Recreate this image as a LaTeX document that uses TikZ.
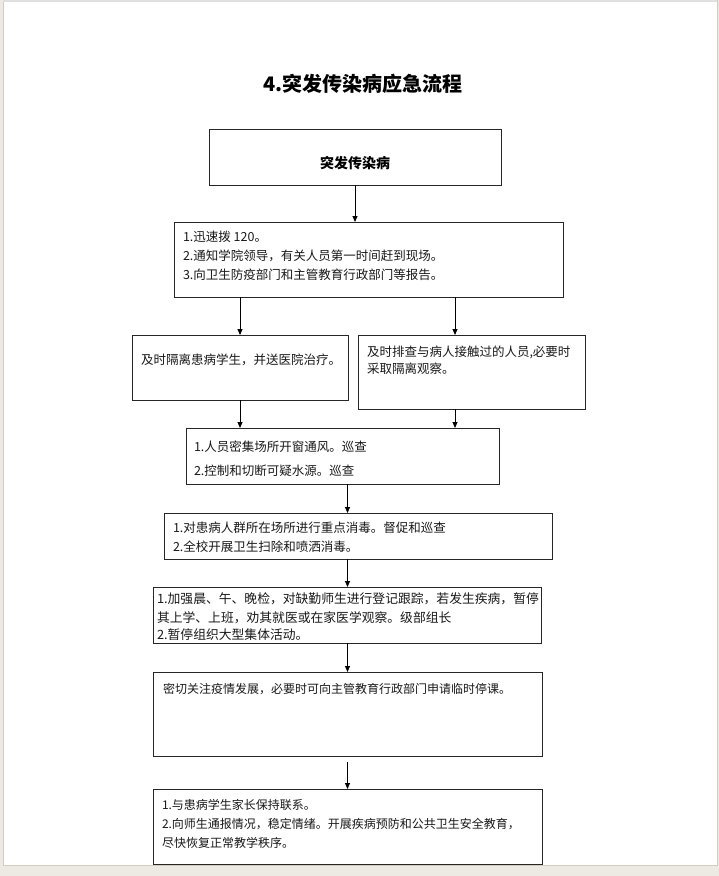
\documentclass[tikz,border=0pt]{standalone}
\usepackage{fontspec}
\setmainfont{Noto Sans CJK SC}
\usetikzlibrary{arrows.meta,calc}
\definecolor{pagebg}{HTML}{EDEAE3}
\definecolor{edgegray}{HTML}{CFCCC4}
\tikzset{
  box/.style={draw=black!85, line width=0.8pt, inner sep=0pt, outer sep=0pt, rectangle},
  txt/.style={anchor=base west, inner sep=0pt, outer sep=0pt, text=black!90, font=\fontsize{12.5}{15}\selectfont},
  arr/.style={draw=black, line width=0.8pt, -{Triangle[length=6pt,width=5pt]}},
}
\begin{document}
\begin{tikzpicture}[x=1pt,y=-1pt]
\useasboundingbox (0,0) rectangle (719,876);
\fill[pagebg] (0,0) rectangle (719,876);
\fill[white] (3,0) rectangle (717,865);
\draw[edgegray, line width=0.6pt] (3,0) -- (3,865) -- (717,865) -- (717,0);
\fill[black!12] (3,0) rectangle (717,1.5);

% title
\node[anchor=base, inner sep=0pt, font=\fontsize{20}{24}\selectfont\bfseries] (title) at (363,91) {4.突发传染病应急流程};

% boxes
\node[box, minimum width=292pt, minimum height=56pt] (b1) at (355,157) {};
\node[box, minimum width=389pt, minimum height=75pt] (b2) at (368.5,259.5) {};
\node[box, minimum width=216pt, minimum height=65pt] (b3l) at (240,367.5) {};
\node[box, minimum width=227pt, minimum height=74pt] (b3r) at (471.5,372) {};
\node[box, minimum width=313pt, minimum height=56pt] (b4) at (342.5,456) {};
\node[box, minimum width=388pt, minimum height=46pt] (b5) at (358,536) {};
\node[box, minimum width=388pt, minimum height=56pt] (b6) at (347,615) {};
\node[box, minimum width=389pt, minimum height=84pt] (b7) at (347.5,714) {};
\node[box, minimum width=389pt, minimum height=75pt] (b8) at (347.5,826.5) {};

% texts
\node[anchor=base, inner sep=0pt, font=\fontsize{14}{17}\selectfont\bfseries] (t1) at (355,168) {突发传染病};

\node[txt] (t2a) at (183,241) {1.迅速拨 120。};
\node[txt] (t2b) at (183,260) {2.通知学院领导，有关人员第一时间赶到现场。};
\node[txt] (t2c) at (183,279) {3.向卫生防疫部门和主管教育行政部门等报告。};

\node[txt] (t3l) at (141,364) {及时隔离患病学生，并送医院治疗。};

\node[txt] (t3ra) at (367,356) {及时排查与病人接触过的人员,必要时};
\node[txt] (t3rb) at (367,373.5) {采取隔离观察。};

\node[txt] (t4a) at (194,451) {1.人员密集场所开窗通风。巡查};
\node[txt] (t4b) at (194,475) {2.控制和切断可疑水源。巡查};

\node[txt] (t5a) at (173,532) {1.对患病人群所在场所进行重点消毒。督促和巡查};
\node[txt] (t5b) at (173,551) {2.全校开展卫生扫除和喷洒消毒。};

\node[txt, font=\fontsize{12.8}{15}\selectfont] (t6a) at (157,603) {1.加强晨、午、晚检，对缺勤师生进行登记跟踪，若发生疾病，暂停};
\node[txt, font=\fontsize{12.8}{15}\selectfont] (t6b) at (157,622) {其上学、上班，劝其就医或在家医学观察。级部组长};
\node[txt, font=\fontsize{12.8}{15}\selectfont] (t6c) at (157,639) {2.暂停组织大型集体活动。};

\node[txt, font=\fontsize{12}{15}\selectfont] (t7) at (163,693) {密切关注疫情发展，必要时可向主管教育行政部门申请临时停课。};

\node[txt, font=\fontsize{12}{15}\selectfont] (t8a) at (162,809) {1.与患病学生家长保持联系。};
\node[txt, font=\fontsize{12}{15}\selectfont] (t8b) at (162,828) {2.向师生通报情况，稳定情绪。开展疾病预防和公共卫生安全教育，};
\node[txt, font=\fontsize{12}{15}\selectfont] (t8c) at (162,847) {尽快恢复正常教学秩序。};

% connectors
\coordinate (ax) at (347.5,0);
\coordinate (rx) at (455,0);
\draw[arr] (b1.south) -- (b1.south |- b2.north);
\draw[arr] (b3l.north |- b2.south) -- (b3l.north);
\draw[arr] (rx |- b2.south) -- (rx |- b3r.north);
\draw[arr] (b3l.south) -- (b3l.south |- b4.north);
\draw[arr] (rx |- b3r.south) -- (rx |- b4.north);
\draw[arr] (ax |- b4.south) -- (ax |- b5.north);
\draw[arr] (ax |- b5.south) -- (ax |- b6.north);
\draw[arr] (ax |- b6.south) -- (ax |- b7.north);
\draw[arr, shorten <=6pt] (ax |- b7.south) -- (ax |- b8.north);
\end{tikzpicture}
\end{document}
